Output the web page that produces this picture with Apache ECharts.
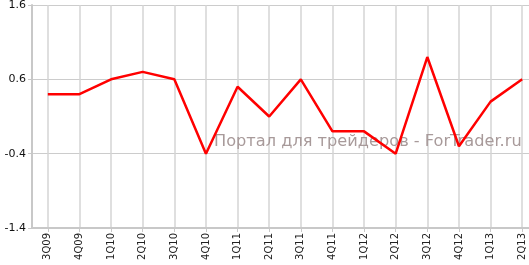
<!DOCTYPE html>
<html><head><meta charset="utf-8">
<script src="https://cdn.jsdelivr.net/npm/echarts@6/dist/echarts.min.js"></script>
<style>html,body{margin:0;padding:0;background:#fff}#c{width:529px;height:265px}</style>
</head><body><div id="c"></div>
<script>
const categories = ['3Q09','4Q09','1Q10','2Q10','3Q10','4Q10','1Q11','2Q11','3Q11','4Q11','1Q12','2Q12','3Q12','4Q12','1Q13','2Q13'];
const values = [0.4,0.4,0.6,0.7,0.6,-0.4,0.5,0.1,0.6,-0.1,-0.1,-0.4,0.9,-0.3,0.3,0.6];
const yTicks = [-1.4,-0.4,0.6,1.6];
const watermark = 'Портал для трейдеров - ForTrader.ru';

const chart = echarts.init(document.getElementById('c'));
chart.setOption({
  animation: false,
  grid: {left: 32, width: 506, top: 5, height: 223, outerBoundsMode: 'none', containLabel: false},
  xAxis: {
    type: 'category', data: categories, boundaryGap: true,
    axisLine: {onZero: false, lineStyle: {color: '#c8c8c8', width: 2}},
    axisTick: {show: true, alignWithLabel: true, length: 4, lineStyle: {color: '#c8c8c8'}},
    splitLine: {show: true, alignWithLabel: true, lineStyle: {color: '#d4d4d4', width: 1.5}},
    axisLabel: {rotate: 90, interval: 0, fontFamily: 'DejaVu Sans', fontSize: 10, color: '#222', margin: 5}
  },
  yAxis: {
    type: 'value', min: yTicks[0], max: yTicks[yTicks.length-1], interval: 1,
    axisLine: {show: true, lineStyle: {color: '#c8c8c8', width: 2}},
    axisTick: {show: true, length: 4, lineStyle: {color: '#c8c8c8'}},
    splitLine: {show: true, lineStyle: {color: '#cccccc', width: 1}},
    axisLabel: {fontFamily: 'DejaVu Sans', fontSize: 11, color: '#111', margin: 6,
      formatter: v => (Math.round(v*10)/10).toFixed(1)}
  },
  graphic: [{type: 'text', left: 214, top: 134, z: 1,
    style: {text: watermark, font: '16.2px "DejaVu Sans"', fill: '#a89a9a'}}],
  series: [{type: 'line', data: values, showSymbol: false, z: 5,
    lineStyle: {color: '#ff0000', width: 2.5}, itemStyle: {color: '#ff0000'}}]
});
</script></body></html>
